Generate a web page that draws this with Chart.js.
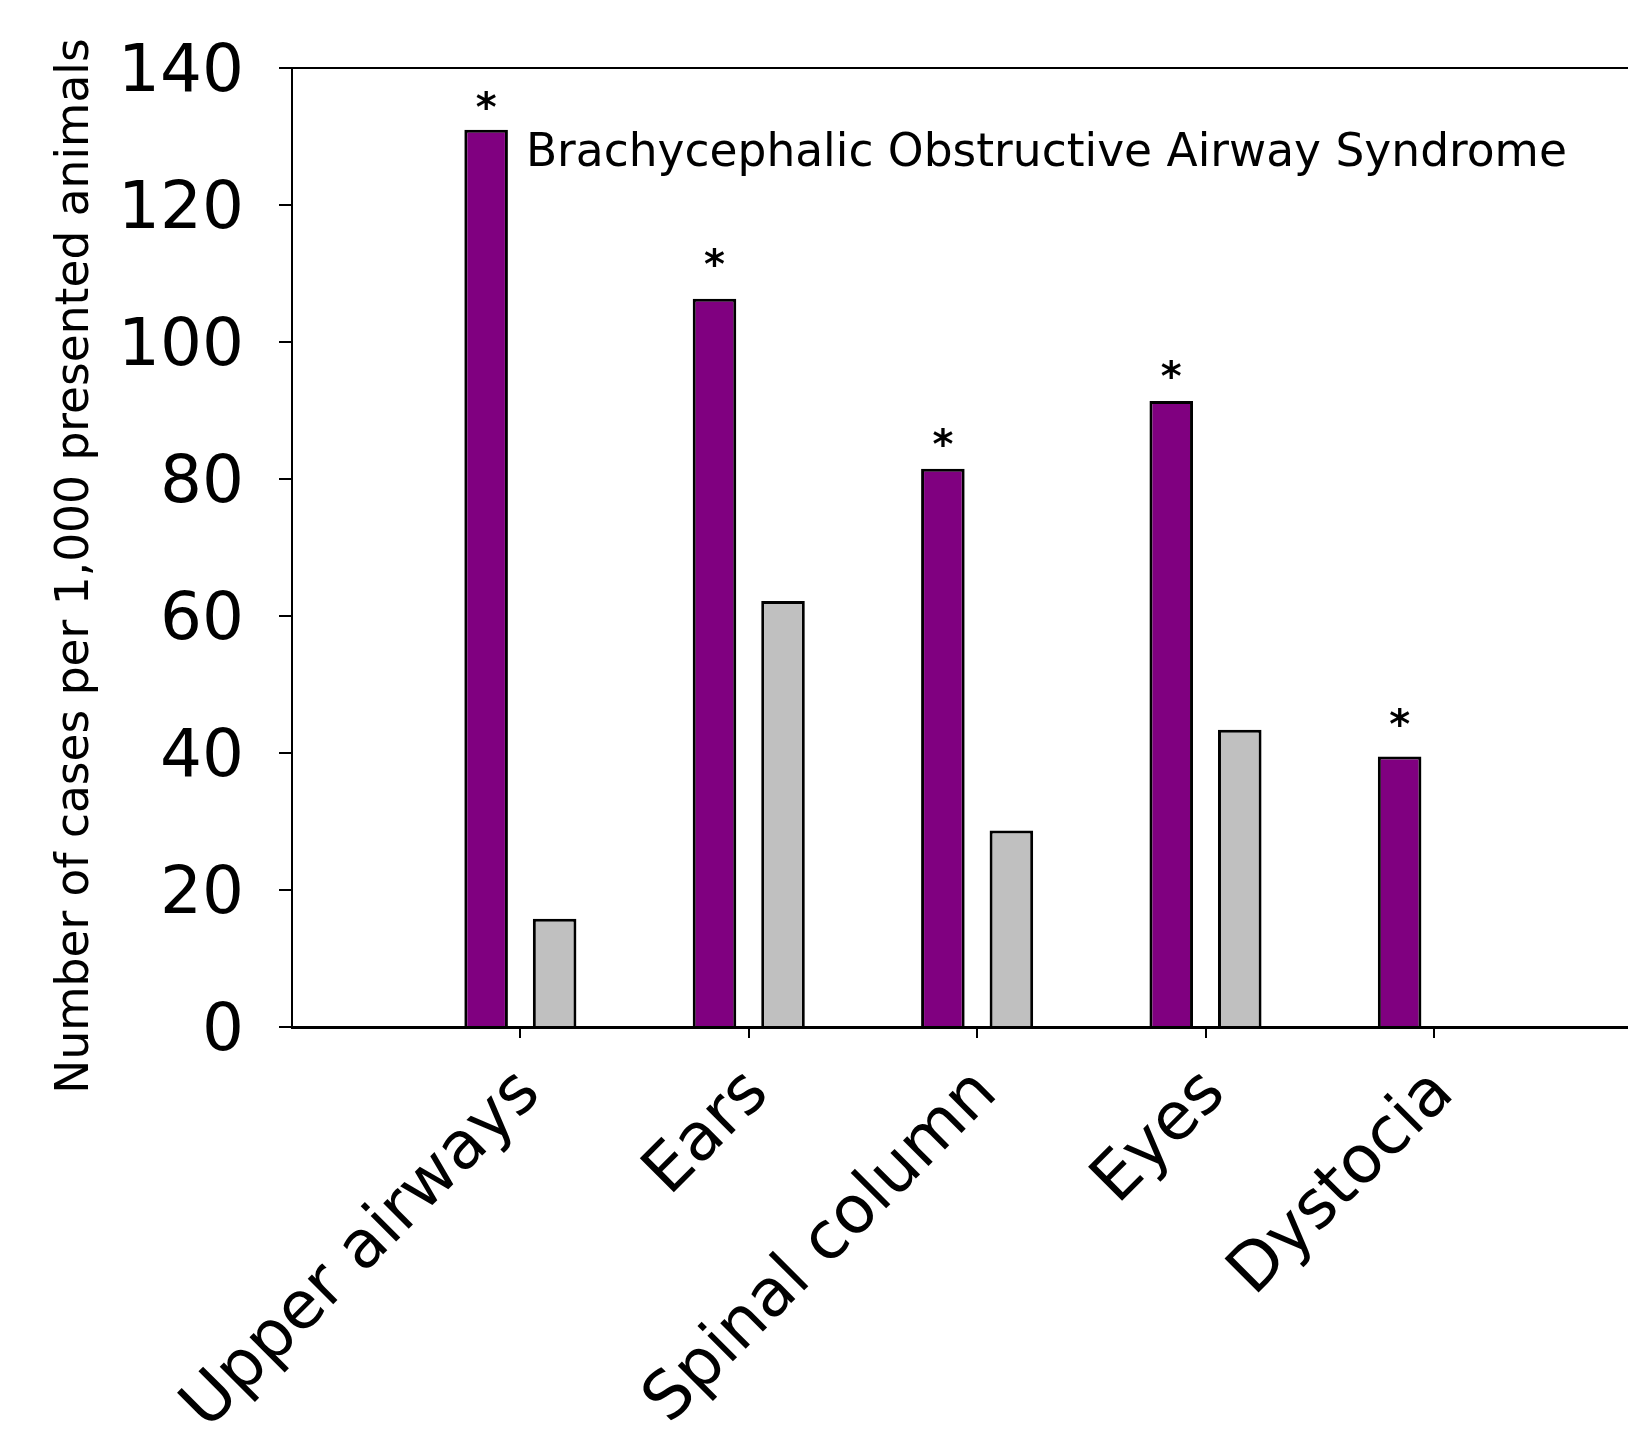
<!DOCTYPE html>
<html><head><meta charset="utf-8">
<script src="https://cdn.jsdelivr.net/npm/chart.js@4"></script>
<style>html,body{margin:0;padding:0;background:#fff;overflow:hidden}</style>
</head><body>
<canvas id="c" width="1628" height="1434"></canvas>
<script>
const categories = ['Upper airways', 'Ears', 'Spinal column', 'Eyes', 'Dystocia'];
const brachyValues = [131, 106.3, 81.5, 91.4, 39.5];
const otherValues = [15.8, 62.2, 28.7, 43.4, null];
const significance = ['*', '*', '*', '*', '*'];
const significanceLevel = [135.1, 112.1, 85.9, 95.7, 44.9];
const yTicks = [0, 20, 40, 60, 80, 100, 120, 140];
const yTitle = 'Number of cases per 1,000 presented animals';
const annotationText = 'Brachycephalic Obstructive Airway Syndrome';

const FONT = '"DejaVu Sans", Verdana, sans-serif';

const toPoints = arr => arr.map((v, i) => ({ x: i + 1, y: v }));

const extras = {
  id: 'extras',
  afterDatasetsDraw(chart) {
    const ctx = chart.ctx;
    const meta = chart.getDatasetMeta(0);
    const yScale = chart.scales.y;
    ctx.save();
    ctx.fillStyle = '#000';
    // asterisks
    ctx.font = 'bold 40px ' + FONT;
    ctx.textAlign = 'center';
    ctx.textBaseline = 'alphabetic';
    meta.data.forEach((bar, i) => {
      if (significance[i]) ctx.fillText(significance[i], bar.x, yScale.getPixelForValue(significanceLevel[i]) + 19);
    });
    // annotation next to first bar
    const b0 = meta.data[0];
    ctx.font = '45.5px ' + FONT;
    ctx.textAlign = 'left';
    ctx.textBaseline = 'middle';
    ctx.fillText(annotationText, b0.x + b0.width / 2 + 18, b0.y + 25);
    // y title
    ctx.translate(76, 566);
    ctx.rotate(-Math.PI / 2);
    ctx.font = '45.5px ' + FONT;
    ctx.textAlign = 'center';
    ctx.textBaseline = 'middle';
    ctx.fillText(yTitle, 0, 0);
    ctx.restore();
  }
};

new Chart(document.getElementById('c'), {
  type: 'bar',
  data: {
    datasets: [
      { label: 'Brachycephalic', data: toPoints(brachyValues), backgroundColor: '#800080', borderColor: '#000', borderWidth: 3 },
      { label: 'Other', data: toPoints(otherValues), backgroundColor: '#C0C0C0', borderColor: '#000', borderWidth: 3 }
    ]
  },
  options: {
    responsive: false,
    animation: false,
    devicePixelRatio: 1,
    categoryPercentage: 0.6,
    barPercentage: 0.636,
    layout: { padding: { top: 68, right: 0, left: 0, bottom: 0 } },
    plugins: { legend: { display: false }, tooltip: { enabled: false } },
    scales: {
      x: {
        type: 'linear',
        min: 0,
        max: 5.85,
        offset: false,
        afterBuildTicks: s => { s.ticks = categories.map((c, i) => ({ value: i + 1 })); },
        afterFit: s => { s.height = 1434 - 1027; s.paddingLeft = 0; s.paddingRight = 0; },
        ticks: {
          callback: v => categories[v - 1] ?? '',
          minRotation: 45, maxRotation: 45,
          autoSkip: false,
          color: '#000',
          padding: 17,
          labelOffset: 10,
          font: { family: FONT, size: 66 }
        },
        grid: { offset: false, drawOnChartArea: false, drawTicks: true, tickLength: 11, color: '#000', lineWidth: 2 },
        border: { display: true, color: '#000', width: 3 }
      },
      y: {
        min: 0,
        max: 140,
        afterBuildTicks: s => { s.ticks = yTicks.map(v => ({ value: v })); },
        afterFit: s => { s.width = 292; s.paddingTop = 0; s.paddingBottom = 0; },
        ticks: {
          color: '#000',
          padding: 35,
          labelOffset: 6,
          font: { family: FONT, size: 66 }
        },
        grid: {
          drawOnChartArea: true,
          color: c => (c.tick && c.tick.value === 140) ? '#000' : 'rgba(0,0,0,0)',
          tickColor: '#000',
          lineWidth: 2,
          tickLength: 13
        },
        border: { display: true, color: '#000', width: 2 }
      }
    }
  },
  plugins: [extras]
});
</script>
</body></html>
